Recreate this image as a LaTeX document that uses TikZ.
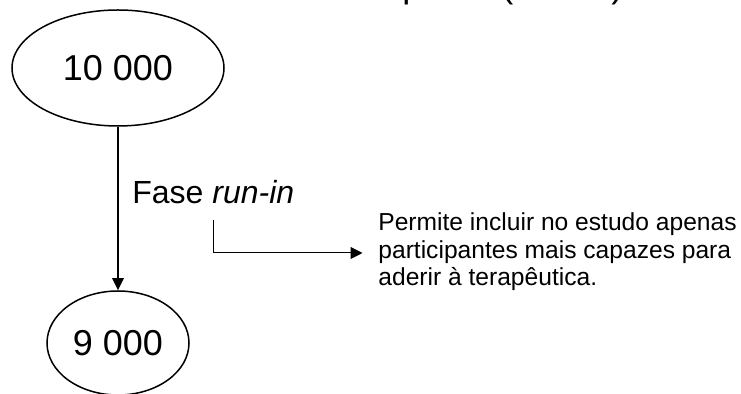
\documentclass[tikz,border=0pt]{standalone}
\usepackage{fontspec}
\setmainfont{Liberation Sans}
\usetikzlibrary{shapes.geometric,arrows.meta}
\begin{document}
\begin{tikzpicture}[x=0.5pt,y=-0.5pt,
  oval/.style={draw,ellipse,line width=0.75pt,inner sep=0pt,font=\fontsize{18}{20}\selectfont},
  mainarrow/.style={line width=1.3pt,-{Triangle[length=6pt,width=5.5pt]}},
  notearrow/.style={line width=0.5pt,-{Triangle[length=6pt,width=6pt]}},
  cut/.style={anchor=base west,inner sep=0pt,font=\fontsize{18}{20}\selectfont}]
\useasboundingbox (0,0) rectangle (741,394);
\begin{scope}
\clip (0,0) rectangle (741,394);
\node[cut] (tp) at (402,-2.5) {p};
\node[cut] (tl) at (501,-2.5) {(};
\node[cut] (tr) at (611,-2.5) {)};
\end{scope}
\node[oval,minimum width=106pt,minimum height=58pt] (a) at (118,68) {10 000};
\node[oval,minimum width=71pt,minimum height=52pt] (b) at (118,343) {9 000};
\draw[mainarrow] (a.south) -- (b.north);
\node[anchor=base west,inner sep=0pt,font=\fontsize{16}{18}\selectfont] (fase) at (132,204) {Fase \textit{run-in}};
\coordinate (s) at (213,220);
\coordinate (tip) at (362.5,253);
\draw[notearrow] (s) |- (tip);
\node[anchor=north west,inner sep=0pt,align=left,font=\fontsize{12.3}{13.75}\selectfont] (note) at (378,212.6)
 {Permite incluir no estudo apenas\\participantes mais capazes para\\aderir à terapêutica.};
\end{tikzpicture}
\end{document}
